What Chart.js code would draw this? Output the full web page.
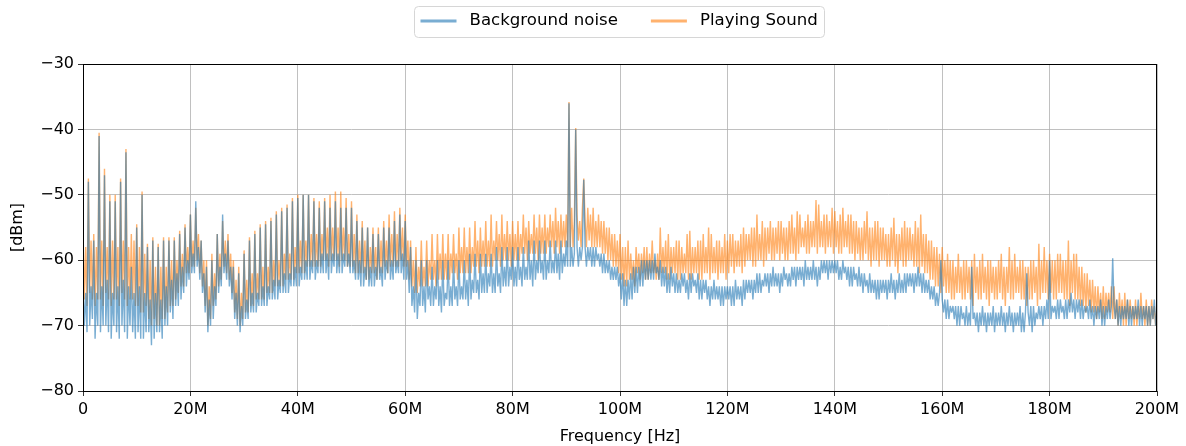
<!DOCTYPE html>
<html>
<head>
<meta charset="utf-8">
<script src="https://cdn.jsdelivr.net/npm/chart.js@4.4.1/dist/chart.umd.min.js"></script>
<style>
  html, body { margin: 0; padding: 0; background: #fff; }
  #wrap { width: 1186px; height: 446px; }
</style>
</head>
<body>
<div id="wrap"><canvas id="spec" width="1186" height="446"></canvas></div>
<script>
// sample spacing of the spectrum (Hz) - one value every 0.25 MHz, 0..200 MHz
const STEP_HZ = 0.25e6;

// Background noise [dBm] (one line = 5 MHz)
const bgNoise = [
  -64,-70,-65,-71, -48,-70,-64,-69, -57,-72,-65,-70, -41,-71,-64,-70, -47,-70,-63,-71,
  -51,-72,-65,-70, -51,-71,-64,-72, -48,-70,-63,-71, -43.5,-72,-64,-70, -61,-71,-65,-72,
  -55,-71,-64,-72, -50,-72,-65,-71, -58,-71,-66,-73, -57,-72,-65,-71, -58,-71,-66,-72,
  -57,-70,-64,-70, -57,-68,-63,-69, -57,-67,-62,-67, -56,-66,-61,-65, -55,-64,-60,-63,
  -53,-62,-59,-62, -51,-61,-58,-63, -57,-65,-62,-68, -61,-71,-66,-70, -60,-69,-64,-67,
  -56,-65,-61,-64, -53,-62,-59,-63, -57,-64,-61,-66, -61,-69,-65,-70, -62,-71,-67,-70,
  -59,-69,-66,-69, -57,-68,-65,-68, -56,-68,-65,-67, -55,-67,-64,-67, -54.5,-67,-64,-66,
  -54,-66,-63,-66, -53,-66,-63,-65, -52.5,-65,-62,-65, -52,-65,-62,-64, -51,-64,-61,-64,
  -50.5,-64,-61,-63, -50,-63,-60,-63, -50,-63,-60,-62, -51,-63,-60,-62, -52,-62,-59,-62,
  -51,-62,-59,-63, -52,-62,-59,-61, -51,-62,-59,-62, -52,-62,-59,-61, -52,-61,-59,-62,
  -52,-62,-60,-63, -54,-63,-60,-64, -55,-64,-61,-63, -55,-64,-61,-64, -56,-64,-61,-63,
  -56,-63,-61,-64, -55,-63,-60,-62, -55,-63,-60,-63, -54,-62,-60,-62, -53,-62,-59,-63,
  -54,-63,-60,-65, -58,-67,-64,-68, -60,-69,-65,-67, -60,-67,-64,-68, -60,-66,-64,-67,
  -61,-67,-64,-66, -60,-67,-64,-68, -60,-67,-65,-66, -60,-67,-64,-67, -60,-66,-64,-67,
  -60,-66,-64,-66, -60,-66,-63,-67, -59,-66,-63,-65, -59,-65,-63,-66, -59,-65,-62,-65,
  -59,-65,-62,-64, -59,-65,-62,-65, -58,-64,-62,-65, -58,-64,-61,-64, -58,-64,-61,-63,
  -58,-64,-61,-64, -58,-63,-61,-64, -58,-63,-61,-63, -57,-63,-60,-64, -57,-63,-60,-62,
  -57,-62,-60,-63, -57,-63,-60,-62, -57,-62,-60,-62, -57,-62,-59,-63, -57,-62,-59,-61,
  -57,-61,-36,-61, -58,-61,-59,-40, -58,-61,-58,-60, -58,-47.7,-58,-61, -58,-60,-58,-61,
  -58,-61,-58,-60, -59,-61,-59,-62, -59,-62,-60,-62, -60,-63,-61,-63, -61,-63,-61,-64,
  -62,-66,-62,-67, -63,-67,-63,-66, -62,-66,-61,-65, -61,-65,-61,-64, -60,-64,-60,-63,
  -60,-63,-60,-63, -60,-63,-59,-62, -61,-63,-60,-64, -61,-64,-61,-65, -62,-65,-61,-64,
  -62,-65,-62,-65, -63,-65,-62,-64, -62,-65,-63,-66, -62,-65,-62,-64, -63,-65,-62,-66,
  -63,-66,-63,-65, -63,-66,-64,-67, -64,-66,-63,-66, -64,-66,-64,-67, -64,-67,-64,-66,
  -64,-66,-64,-67, -64,-67,-63,-66, -64,-66,-64,-67, -63,-66,-63,-65, -63,-65,-63,-66,
  -63,-65,-62,-65, -62,-65,-63,-64, -62,-64,-62,-65, -62,-64,-61,-64, -62,-64,-62,-65,
  -62,-64,-61,-63, -62,-64,-62,-64, -61,-63,-61,-64, -61,-63,-61,-63, -61,-64,-60,-63,
  -61,-63,-61,-63, -60,-63,-61,-64, -61,-63,-60,-62, -60,-62,-60,-63, -60,-62,-60,-62,
  -60,-62,-60,-63, -61,-63,-60,-62, -61,-63,-61,-64, -61,-64,-61,-63, -62,-64,-61,-64,
  -62,-65,-62,-64, -63,-65,-62,-65, -63,-65,-63,-66, -63,-66,-63,-65, -63,-65,-63,-66,
  -63,-65,-62,-65, -63,-66,-63,-65, -62,-65,-63,-65, -62,-65,-62,-64, -62,-64,-62,-65,
  -62,-64,-61,-64, -62,-65,-62,-65, -63,-65,-63,-66, -64,-66,-64,-67, -65,-67,-65,-60,
  -66,-68,-66,-69, -66,-69,-67,-68, -67,-69,-67,-70, -67,-70,-67,-69, -68,-70,-67,-70,
  -68,-70,-61,-69, -68,-70,-68,-71, -68,-70,-67,-70, -68,-71,-68,-70, -68,-70,-67,-71,
  -68,-70,-68,-70, -67,-70,-68,-71, -68,-70,-67,-70, -68,-71,-68,-70, -68,-70,-67,-71,
  -68,-71,-68,-62, -68,-70,-67,-71, -67,-70,-68,-69, -67,-69,-67,-70, -67,-69,-66,-69,
  -60,-69,-67,-68, -67,-69,-66,-69, -66,-68,-67,-69, -66,-69,-66,-68, -65,-68,-66,-69,
  -66,-68,-66,-69, -66,-69,-67,-68, -67,-69,-66,-69, -67,-70,-67,-69, -67,-69,-66,-70,
  -67,-70,-67,-69, -66,-69,-67,-59.7, -67,-69,-66,-70, -67,-70,-67,-69, -67,-69,-66,-70,
  -67,-70,-67,-69, -67,-69,-66,-70, -67,-70,-67,-69, -67,-70,-67,-70, -67,-69,-66,-70,
  -68
];

// Playing Sound [dBm]
const playingSound = [
  -55,-66,-58,-67, -47.5,-65,-57,-66, -56,-67,-58,-66, -40.5,-66,-57,-67, -46,-65,-58,-66,
  -50,-67,-57,-66, -50,-66,-58,-67, -47.5,-65,-57,-66, -43,-67,-58,-66, -56,-66,-57,-67,
  -54.5,-67,-58,-68, -49.5,-68,-59,-67, -57.5,-69,-60,-70, -56.5,-69,-61,-70, -57.5,-70,-61,-69,
  -56.5,-69,-61,-68, -56.5,-67,-60,-67, -56.5,-66,-60,-65, -55.5,-64,-59,-64, -54.5,-62,-58,-62,
  -53,-61,-57,-61, -52,-60,-56,-62, -57,-64,-60,-67, -60,-70,-64,-69, -59,-67,-62,-66,
  -56,-64,-59,-63, -54,-61,-57,-62, -56,-63,-59,-65, -60,-68,-63,-69, -61,-70,-65,-69,
  -58.5,-68,-63,-68, -56.5,-67,-62,-67, -55.5,-66,-62,-66, -54.5,-66,-61,-66, -54,-65,-61,-65,
  -53.5,-65,-60,-64, -52.5,-64,-60,-64, -52,-64,-59,-63, -51.5,-63,-59,-63, -50.5,-63,-58,-62,
  -50,-62,-57,-62, -50,-62,-57,-61, -50,-61,-56,-61, -50.5,-61,-56,-61, -51,-61,-56,-60,
  -50.5,-60,-55,-61, -50,-60,-55,-60, -49.5,-60,-55,-61, -49.5,-60,-55,-60, -50.5,-61,-56,-61,
  -51,-61,-56,-62, -53,-62,-57,-62, -54,-62,-57,-63, -55,-63,-58,-62, -55,-62,-58,-63,
  -55,-62,-57,-62, -54,-61,-57,-62, -53,-61,-56,-61, -52.5,-61,-56,-61, -52,-60,-55,-61,
  -53,-61,-57,-63, -57,-64,-60,-65, -58,-65,-61,-64, -57,-64,-61,-64, -57,-64,-60,-63,
  -56,-63,-60,-64, -56,-63,-59,-63, -56,-63,-59,-63, -56,-63,-59,-62, -56,-62,-59,-63,
  -55,-62,-58,-62, -55,-62,-58,-62, -55,-62,-58,-61, -54,-61,-57,-62, -55,-61,-57,-61,
  -54,-61,-57,-61, -53,-61,-57,-60, -54,-60,-56,-61, -53,-60,-56,-60, -54,-60,-56,-61,
  -54,-60,-56,-60, -54,-60,-56,-59, -53,-59,-55,-60, -54,-59,-56,-59, -53,-59,-55,-60,
  -53,-59,-55,-59, -53,-59,-55,-58, -53,-58,-54,-59, -52,-58,-54,-59, -53,-58,-54,-58,
  -53,-58,-35.8,-58, -52,-58,-54,-39.8, -53,-57,-54,-58, -52,-47.5,-54,-58, -52,-57,-53,-58,
  -52,-58,-54,-58, -53,-58,-54,-59, -54,-59,-55,-60, -55,-60,-56,-61, -56,-61,-57,-62,
  -56,-63,-58,-64, -58,-64,-57,-63, -59,-63,-60,-64, -58,-62,-59,-63, -59,-62,-58,-63,
  -58,-63,-59,-62, -57,-62,-60,-63, -59,-63,-55,-62, -58,-62,-57,-63, -56,-63,-58,-62,
  -58,-62,-57,-63, -57,-63,-58,-62, -59,-62,-56,-63, -55.5,-63,-58,-62, -58,-62,-57,-63,
  -57,-63,-56,-62, -58,-62,-55,-63, -56,-62,-58,-62, -57,-63,-57,-62, -58,-62,-56,-63,
  -57,-62,-56,-61, -56,-62,-57,-61, -57,-61,-56,-62, -55,-61,-56,-60, -56,-60,-55,-61,
  -55,-61,-53,-60, -56,-60,-54,-61, -55,-60,-55,-59, -54,-60,-55,-60, -55,-59,-54,-60,
  -54,-59,-55,-60, -55,-60,-54,-59, -53,-59,-55,-60, -52.5,-59,-53,-58, -55,-58,-54,-59,
  -53,-59,-54,-58, -54,-58,-50.8,-59, -51.5,-58,-54,-58, -53,-59,-53,-58, -54,-58,-52,-59,
  -52.5,-58,-54,-59, -53,-59,-52,-58, -54,-58,-53,-59, -53,-59,-54,-60, -54,-59,-55,-60,
  -55,-60,-54,-59, -52.5,-60,-55,-61, -55,-60,-54,-60, -54,-61,-55,-60, -55,-60,-56,-61,
  -56,-61,-55,-60, -53.5,-61,-56,-62, -56,-60,-55,-61, -54,-61,-55,-60, -55,-60,-56,-61,
  -54,-61,-55,-62, -53,-61,-56,-62, -56,-62,-57,-63, -57,-63,-58,-64, -58,-64,-59,-65,
  -58,-64,-60,-65, -59,-65,-60,-66, -60,-66,-61,-65, -59,-65,-61,-66, -60,-66,-60,-65,
  -61,-66,-60,-67, -59,-65,-61,-66, -60,-66,-59,-65, -61,-66,-60,-67, -60,-65,-61,-66,
  -61,-66,-60,-65, -59,-66,-61,-67, -61,-65,-58,-66, -60,-66,-59,-65, -61,-65,-60,-66,
  -60,-66,-61,-67, -61,-66,-60,-66, -60,-65,-61,-67, -57.5,-66,-60,-65, -58,-65,-60,-66,
  -59,-65,-60,-66, -60,-66,-59,-65, -59,-65,-60,-66, -60,-66,-57,-67, -60,-65,-59,-66,
  -59,-66,-61,-67, -61,-67,-62,-68, -62,-67,-63,-68, -63,-68,-64,-69, -64,-68,-65,-69,
  -64,-69,-65,-68, -65,-68,-64,-69, -64,-69,-66,-70, -65,-69,-66,-70, -65,-70,-66,-69,
  -66,-69,-67,-70, -66,-70,-67,-69, -65,-69,-67,-70, -66,-70,-67,-70, -66,-69,-67,-70,
  -67
];

const seriesNames = ['Background noise', 'Playing Sound'];
const seriesColors = ['rgba(31,119,180,0.6)', 'rgba(255,127,14,0.6)'];
const yTickValues = [-80, -70, -60, -50, -40, -30];
const xTickLabels = ['0', '20M', '40M', '60M', '80M', '100M', '120M', '140M', '160M', '180M', '200M'];

const toPoints = vals => vals.map((v, i) => ({ x: i * STEP_HZ, y: v }));

Chart.defaults.font.family = "'DejaVu Sans', sans-serif";
Chart.defaults.font.size = 16;
Chart.defaults.color = '#000';

/* frame round the plot + matplotlib style legend box */
const framePlugin = {
    id: 'frame',
    afterDatasetsDraw(chart) {
        const { ctx, chartArea: a } = chart;
        ctx.save();
        ctx.strokeStyle = '#000';
        ctx.lineWidth = 1;
        ctx.strokeRect(Math.round(a.left) + 0.5, Math.round(a.top) + 0.5,
            Math.round(a.right - a.left) - 1, Math.round(a.bottom - a.top));
        ctx.restore();
    },
    afterDraw(chart) {
        const ctx = chart.ctx;
        const sets = chart.data.datasets;
        ctx.save();
        ctx.font = "16.6px 'DejaVu Sans', sans-serif";
        const lineLen = 36, gapText = 13, gapItem = 33, padX = 6, padR = 7;
        let w = padX + padR;
        sets.forEach((ds, i) => {
            w += lineLen + gapText + ctx.measureText(ds.label).width;
            if (i < sets.length - 1) w += gapItem;
        });
        const x0 = 414.5, y0 = 6.5, h = 31, cy = 21;
        ctx.beginPath();
        ctx.roundRect(x0, y0, Math.round(w), h, 4);
        ctx.fillStyle = 'rgba(255,255,255,0.8)';
        ctx.fill();
        ctx.strokeStyle = '#d6d6d6';
        ctx.lineWidth = 1;
        ctx.stroke();
        let x = x0 + padX;
        sets.forEach(ds => {
            ctx.beginPath();
            ctx.moveTo(x, cy);
            ctx.lineTo(x + lineLen, cy);
            ctx.strokeStyle = ds.borderColor;
            ctx.lineWidth = 3;
            ctx.stroke();
            x += lineLen + gapText;
            ctx.fillStyle = '#000';
            ctx.textBaseline = 'middle';
            ctx.fillText(ds.label, x, cy);
            x += ctx.measureText(ds.label).width + gapItem;
        });
        ctx.restore();
    }
};

new Chart(document.getElementById('spec'), {
    type: 'line',
    data: {
        datasets: [
            { label: seriesNames[0], data: toPoints(bgNoise), borderColor: seriesColors[0] },
            { label: seriesNames[1], data: toPoints(playingSound), borderColor: seriesColors[1] }
        ]
    },
    options: {
        responsive: false,
        animation: false,
        devicePixelRatio: 1,
        layout: { padding: { top: 64, right: 29, left: 0, bottom: 0 } },
        elements: {
            line: { borderWidth: 1.4, tension: 0, fill: false, borderJoinStyle: 'bevel' },
            point: { radius: 0, hoverRadius: 0 }
        },
        plugins: { legend: { display: false }, tooltip: { enabled: false } },
        scales: {
            x: {
                type: 'linear',
                min: 0, max: 200e6,
                afterFit: s => { s.height = 55; },
                ticks: {
                    stepSize: 20e6,
                    padding: 4,
                    maxRotation: 0,
                    callback: (v, i) => xTickLabels[i]
                },
                grid: { color: '#b0b0b0', lineWidth: 0.8, tickLength: 5, tickColor: '#000' },
                border: { display: false },
                title: { display: true, text: 'Frequency [Hz]', padding: { top: 0, bottom: 0 } }
            },
            y: {
                min: -80, max: -30,
                afterFit: s => { s.width = 83; },
                afterBuildTicks: s => { s.ticks = yTickValues.map(v => ({ value: v })); },
                ticks: {
                    padding: 4,
                    callback: v => (v < 0 ? '\u2212' + Math.abs(v) : String(v))
                },
                grid: { color: '#b0b0b0', lineWidth: 0.8, tickLength: 5, tickColor: '#000' },
                border: { display: false },
                title: { display: true, text: '[dBm]', padding: { top: 8, bottom: 0 } }
            }
        }
    },
    plugins: [framePlugin]
});
</script>
</body>
</html>
